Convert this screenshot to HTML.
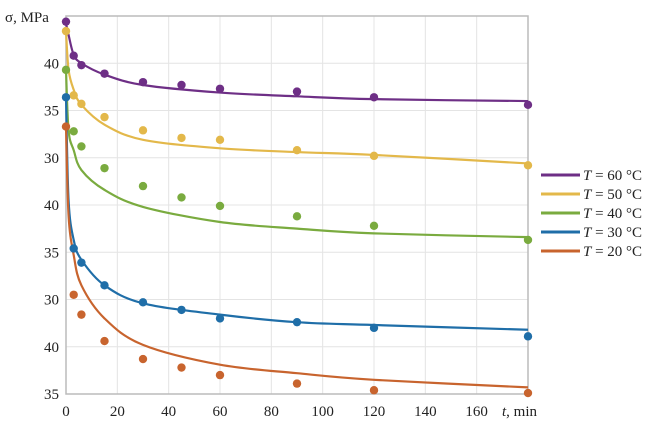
<!DOCTYPE html>
<html><head><meta charset="utf-8"><style>
body{margin:0;background:#fff}
svg text{font-family:"Liberation Serif",serif;font-size:15px;fill:#222}
</style></head><body>
<svg id="c" width="663" height="428"></svg>
<script>
const times=[0,3,6,15,30,45,60,90,120,180];
const fitTimes=[0,1,3,6,15,30,60,90,120,180];
const xTicks=[0,20,40,60,80,100,120,140,160];
const yTickLabels=["35","40","30","35","40","30","35","40",""];
const seriesNames=["T = 60 °C","T = 50 °C","T = 40 °C","T = 30 °C","T = 20 °C"];
const colors=["#6e2f86","#e3b84a","#7aab3f","#1f6ea8","#c8642e"];
const pts60=[39.4,35.8,34.8,33.9,33.0,32.7,32.3,32.0,31.4,30.6];
const pts50=[38.4,31.6,30.7,29.3,27.9,27.1,26.9,25.8,25.2,24.2];
const pts40=[34.3,27.8,26.2,23.9,22.0,20.8,19.9,18.8,17.8,16.3];
const pts30=[31.4,15.4,13.9,11.5,9.7,8.9,8.0,7.6,7.0,6.1];
const pts20=[28.3,10.5,8.4,5.6,3.7,2.8,2.0,1.1,0.4,0.1];
const fit60=[39.2,38.0,35.9,35.0,33.8,32.7,31.9,31.5,31.2,31.0];
const fit50=[38.4,34.3,32.2,30.6,28.5,26.9,26.0,25.6,25.3,24.4];
const fit40=[34.3,27.9,25.8,23.7,21.6,19.8,18.2,17.5,17.0,16.6];
const fit30=[31.4,20.5,16.3,14.2,11.5,9.6,8.4,7.6,7.3,6.8];
const fit20=[28.3,18.9,14.7,11.5,8.0,5.2,3.1,2.2,1.5,0.7];

const L=66,R=528,T=16,B=394;
const x=t=>L+t/180*(R-L);
const y=u=>B-u/40*(B-T);
const svg=document.getElementById('c');
const NS='http://www.w3.org/2000/svg';
function mk(tag,attrs,parent){const e=document.createElementNS(NS,tag);for(const k in attrs)e.setAttribute(k,attrs[k]);(parent||svg).appendChild(e);return e;}

const grid=mk('g',{});


xTicks.forEach(t=>{if(t>0)mk('line',{x1:x(t),x2:x(t),y1:T,y2:B,stroke:'#e4e4e4','stroke-width':1},grid);});
yTickLabels.forEach((l,i)=>{if(i>0)mk('line',{x1:L,x2:R,y1:y(i*5),y2:y(i*5),stroke:'#e4e4e4','stroke-width':1},grid);});
const frame=mk('rect',{x:L,y:T,width:R-L,height:B-T,fill:'none',stroke:'#bbb','stroke-width':1.5});



xTicks.forEach(t=>{const e=mk('text',{x:x(t),y:416,'text-anchor':'middle'});e.textContent=t;

});
yTickLabels.forEach((l,i)=>{if(!l)return;const e=mk('text',{x:59,y:y(i*5)+5,'text-anchor':'end'});e.textContent=l;

});
const yt=mk('text',{x:5,y:22});yt.textContent='σ, MPa';


const xt=mk('text',{x:502,y:416});xt.innerHTML='<tspan font-style="italic">t</tspan>, min';



function curvePath(ts,vs){
  const p=ts.map((t,i)=>[x(t),y(vs[i])]);
  let d='M'+p[0][0]+','+p[0][1];
  for(let i=0;i<p.length-1;i++){
    const p0=p[i-1]||p[i],p1=p[i],p2=p[i+1],p3=p[i+2]||p[i+1];
    const c1=[p1[0]+(p2[0]-p0[0])/6,p1[1]+(p2[1]-p0[1])/6];
    const c2=[p2[0]-(p3[0]-p1[0])/6,p2[1]-(p3[1]-p1[1])/6];
    d+=` C${c1[0]},${c1[1]} ${c2[0]},${c2[1]} ${p2[0]},${p2[1]}`;
  }
  return d;
}
const allPts=[pts60,pts50,pts40,pts30,pts20];
const allFits=[fit60,fit50,fit40,fit30,fit20];
allFits.forEach((f,s)=>{
  const e=mk('path',{d:curvePath(fitTimes,f),fill:'none',stroke:colors[s],'stroke-width':2.2});
  
  
});
allPts.forEach((v,s)=>{
  times.forEach((t,i)=>{
    const e=mk('circle',{cx:x(t),cy:y(v[i]),r:4.2,fill:colors[s]});
    
    
  });
});
seriesNames.forEach((n,s)=>{
  const g=mk('g',{});
  
  
  const yy=175+s*19;
  mk('line',{x1:541,x2:580,y1:yy,y2:yy,stroke:colors[s],'stroke-width':3},g);
  const e=mk('text',{x:583,y:yy+5},g);
  e.innerHTML='<tspan font-style="italic">T</tspan>'+n.slice(1);
});
</script>
</body></html>
